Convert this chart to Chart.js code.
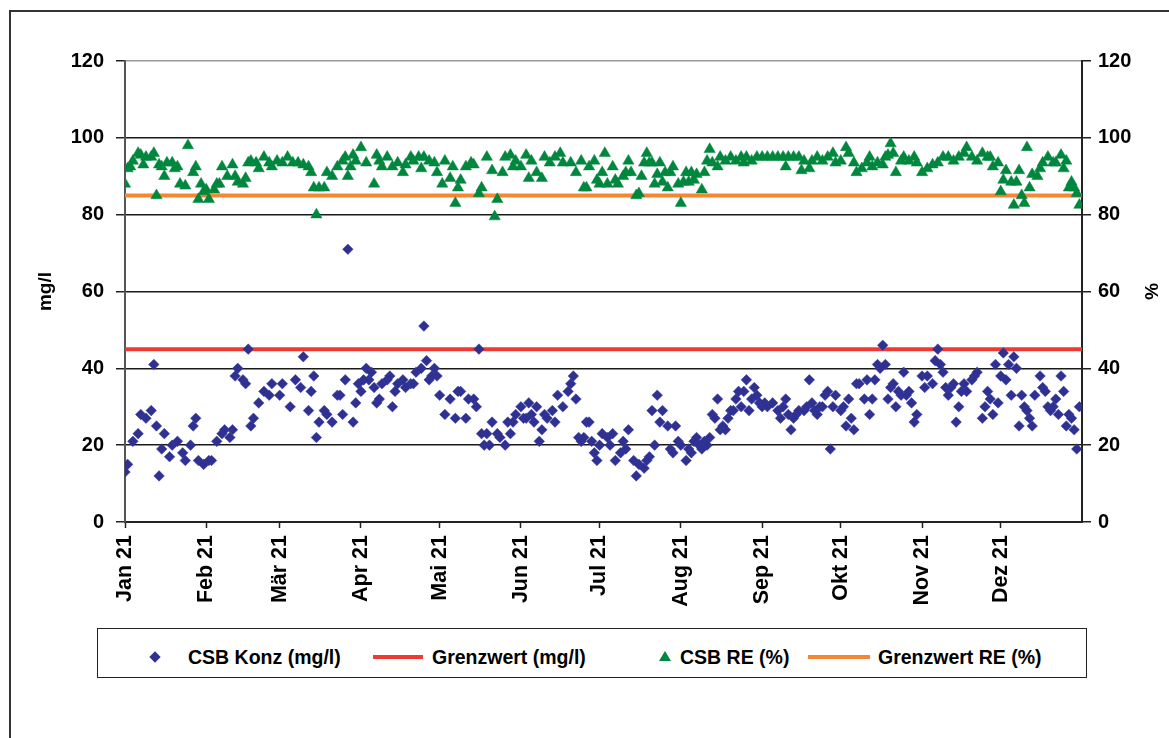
<!DOCTYPE html>
<html>
<head>
<meta charset="utf-8">
<script src="https://cdn.jsdelivr.net/npm/chart.js@4.4.1/dist/chart.umd.min.js"></script>
<style>
    html, body { margin: 0; padding: 0; background: #fff; }
    body { width: 1169px; height: 738px; position: relative; overflow: hidden; font-family: "Liberation Sans", Arial, sans-serif; }
    #frame { position: absolute; left: 9px; top: 10px; width: 1300px; height: 900px; border: 2px solid #333; }
    #wrap { position: absolute; left: 0; top: 0; width: 1169px; height: 620px; }
    #legend { position: absolute; left: 97px; top: 628px; width: 990px; height: 50px; border: 1px solid #222; box-sizing: border-box; background: #fff; }
    .lbl { position: absolute; top: 645px; height: 24px; line-height: 24px; font-size: 19.5px; font-weight: bold; color: #000; white-space: nowrap; }
    .swatch-line { position: absolute; height: 4px; top: 655px; }
    .diamond { position: absolute; left: 151px; top: 653px; width: 8px; height: 8px; background: #2E3192; transform: rotate(45deg); }
    .tri { position: absolute; left: 659px; top: 651px; width: 0; height: 0; border-left: 6px solid transparent; border-right: 6px solid transparent; border-bottom: 10px solid #00873E; }
</style>
</head>
<body>
<div id="frame"></div>
<div id="wrap"><canvas id="chart" width="1169" height="620"></canvas></div>
<div id="legend"></div>
<div class="diamond"></div>
<div class="lbl" style="left:188px">CSB Konz (mg/l)</div>
<div class="swatch-line" style="left:373px;width:50px;background:#EE3A32"></div>
<div class="lbl" style="left:432px">Grenzwert (mg/l)</div>
<div class="tri"></div>
<div class="lbl" style="left:680px">CSB RE (%)</div>
<div class="swatch-line" style="left:808px;width:62px;background:#F58634"></div>
<div class="lbl" style="left:878px">Grenzwert RE (%)</div>

<script>
// x axis = day of year 2021
const monthStarts = [1, 32, 60, 91, 121, 152, 182, 213, 244, 274, 305, 335];
const monthLabels = ['Jan 21', 'Feb 21', 'Mär 21', 'Apr 21', 'Mai 21', 'Jun 21', 'Jul 21', 'Aug 21', 'Sep 21', 'Okt 21', 'Nov 21', 'Dez 21'];
const dayMin = 1;
const dayMax = 366;

const grenzKonz = 45;   // mg/l
const grenzRE = 85;     // %

// CSB Konz (mg/l): [day, value]
const konzPoints = [
    [1,13],[2,15],[4,21],[6,23],[7,28],[9,27],[11,29],[12,41],[13,25],[14,12],[15,19],[16,23],[18,17],[19,20],[21,21],
    [23,18],[24,16],[26,20],[27,25],[28,27],[29,16],[31,15],[33,16],[34,16],[36,21],[38,23],[39,24],[41,22],[42,24],
    [43,38],[44,40],[46,37],[47,36],[48,45],[49,25],[50,27],[52,31],[54,34],[56,33],[57,36],[60,33],[61,36],[64,30],
    [66,37],[68,35],[69,43],[71,29],[72,34],[73,38],[74,22],[75,26],[77,29],[78,28],[80,26],[82,33],[83,33],[84,28],
    [85,37],[86,71],[88,26],[89,31],[90,36],[91,34],[92,37],[93,40],[94,37],[95,39],[96,35],[97,31],[98,32],[99,36],
    [101,37],[102,38],[103,30],[104,34],[105,36],[107,37],[108,35],[110,36],[111,36],[112,39],[114,40],[115,51],[116,42],
    [117,37],[118,38],[119,40],[120,38],[121,33],[123,28],[125,32],[127,27],[128,34],[129,34],[131,27],[132,32],[134,32],
    [135,30],[136,45],[137,23],[138,20],[139,23],[140,20],[141,26],[143,23],[144,22],[146,20],[147,26],[148,23],[149,26],
    [150,28],[152,30],[153,27],[154,27],[155,31],[156,28],[157,26],[158,30],[159,21],[160,24],[161,28],[162,27],[164,29],
    [165,26],[166,33],[168,30],[170,34],[171,36],[172,38],[173,32],[174,22],[175,21],[176,22],[177,26],[178,26],[179,21],
    [180,18],[181,16],[182,20],[183,23],[185,22],[186,20],[187,23],[188,16],[190,18],[191,21],[192,19],[193,24],[195,16],
    [196,12],[197,15],[199,14],[200,16],[201,17],[202,29],[203,20],[204,33],[205,26],[206,29],[208,25],[209,19],[210,18],
    [211,25],[212,21],[213,20],[215,16],[216,19],[217,18],[218,21],[219,22],[220,20],[221,19],[222,21],[223,20],[224,22],
    [225,28],[226,27],[227,32],[228,24],[229,25],[230,24],[231,27],[232,29],[233,29],[234,32],[235,34],[236,30],[237,34],
    [238,37],[239,29],[240,32],[241,35],[242,33],[243,31],[244,30],[245,31],[246,30],[248,31],[250,29],[251,27],[252,30],
    [253,32],[254,28],[255,24],[256,27],[257,28],[258,29],[260,29],[261,30],[262,37],[263,31],[264,29],[265,28],[266,30],
    [267,30],[268,33],[269,34],[270,19],[271,30],[272,33],[274,29],[275,30],[276,25],[277,32],[278,27],[279,24],[280,36],
    [281,36],[283,32],[284,37],[285,28],[286,32],[287,37],[288,41],[289,40],[290,46],[291,41],[292,32],[293,35],[294,36],
    [295,30],[296,34],[297,33],[298,39],[299,33],[300,34],[301,31],[302,26],[303,28],[305,38],[306,35],[307,38],[309,36],
    [310,42],[311,45],[312,41],[313,39],[314,35],[315,33],[316,35],[317,36],[318,26],[319,30],[320,34],[321,36],[322,34],
    [324,37],[325,38],[326,39],[328,27],[329,30],[330,34],[331,32],[332,28],[333,41],[334,31],[335,38],[336,44],[337,37],
    [338,41],[339,33],[340,43],[341,40],[342,25],[343,33],[344,30],[345,29],[346,27],[347,25],[348,33],[350,38],[351,35],
    [352,34],[353,30],[354,29],[355,30],[356,32],[357,28],[358,38],[359,34],[360,25],[361,28],[362,27],[363,24],[364,19],
    [365,30]
];

// CSB RE (%): [day, value]
const rePoints = [
    [1,88],[2,92],[3,92.5],[4,94],[6,96],[7,95.5],[8,93],[9,95],[11,95],[12,96],[13,85],[14,93],[15,92.5],[16,90],
    [17,93.5],[19,93.5],[20,92],[21,92.5],[22,88],[24,87.5],[25,98],[27,91],[28,92.5],[29,84],[30,88],[31,86],[32,86.5],
    [33,84],[35,86.5],[36,88],[37,88],[38,92.5],[40,90],[42,93],[43,90],[44,88.5],[46,88],[47,89.5],[48,93.5],[49,94],
    [51,93.5],[52,92],[54,95],[56,93.5],[57,92.5],[59,94],[61,93.5],[63,95],[65,93.5],[67,93.5],[69,93],[71,92.5],[72,91],
    [73,87],[74,80],[75,87],[77,87],[78,91],[80,90],[82,92.5],[84,94],[85,95],[86,90],[87,92.5],[88,95.5],[89,94],
    [91,97.5],[93,93.5],[96,88],[97,95.5],[98,94],[99,92.5],[101,95],[103,92.5],[105,93.5],[107,91],[108,93],[110,95],
    [111,94],[113,95],[114,92],[115,95],[117,94],[119,93.5],[120,91],[122,88],[123,94],[125,89.5],[126,92.5],[127,83],
    [128,87],[129,89],[131,92.5],[133,93.5],[134,93],[136,85.5],[137,87],[139,95],[141,91.5],[142,79.5],[143,84],[145,91],
    [146,95],[148,95.5],[149,92.5],[150,94],[152,92.5],[154,95.5],[155,89.5],[156,94],[158,91],[160,89.5],[161,95],
    [163,93.5],[165,95],[167,96],[168,93.5],[171,93.5],[173,91],[175,94],[176,87],[177,87],[178,92.5],[180,94],[181,89],
    [182,88],[183,91],[184,96],[185,88],[187,92.5],[188,89],[189,88],[191,90],[192,91],[193,94],[194,91],[196,85],
    [197,85.5],[198,90],[199,93.5],[200,96],[201,93.5],[202,93.5],[203,88],[204,90.5],[205,93.5],[206,88.5],[207,91],
    [208,87],[209,91],[210,92.5],[212,88],[213,83],[214,88.5],[215,91],[216,88.5],[217,91],[218,89],[219,90.5],[221,86.5],
    [222,91],[223,94],[224,97],[225,93.5],[227,92.5],[228,95],[230,94],[232,95],[234,94],[236,95],[237,93.5],[238,95],
    [240,94],[242,95],[244,95],[246,95],[248,95],[250,95],[252,95],[253,92.5],[254,95],[256,95],[258,95],[259,91.5],
    [260,94],[262,92],[263,94],[265,95],[267,94],[269,95],[271,96],[272,93.5],[274,94],[276,97.5],[277,96],[279,93.5],
    [280,91],[282,92],[284,93.5],[285,95],[286,92.5],[288,93.5],[290,93],[291,95],[292,95.5],[293,98.5],[294,96],[295,91],
    [297,94],[298,95],[300,94],[302,95],[303,93.5],[305,91],[307,92],[309,93],[311,93.5],[313,95],[315,95],[317,94],
    [319,95],[321,96],[322,97.5],[324,95],[326,94],[328,96],[330,95],[331,95],[332,92.5],[334,93.5],[335,86],[336,89],
    [337,91.5],[339,88.5],[340,82.5],[341,88.5],[342,91.5],[343,85],[344,83],[345,97.5],[346,87],[347,90.5],[349,90],
    [350,92],[351,93.5],[353,95],[355,93.5],[356,93.5],[358,95.5],[359,92],[360,94],[361,87],[362,88.5],[363,87],
    [364,85.5],[365,82.5]
];

const FONT = '"Liberation Sans", Arial, sans-serif';
Chart.defaults.font.family = FONT;
Chart.defaults.color = '#000';

const tickFont = { family: FONT, size: 20, weight: 'bold' };
const toXY = p => ({ x: p[0], y: p[1] });

const ctx = document.getElementById('chart').getContext('2d');
new Chart(ctx, {
    type: 'scatter',
    data: {
        datasets: [
            {
                label: 'CSB Konz (mg/l)',
                data: konzPoints.map(toXY),
                yAxisID: 'y',
                pointStyle: 'rectRot',
                pointRadius: 5.3,
                backgroundColor: '#2E3192',
                borderColor: '#3A3D9C',
                borderWidth: 0.5,
                order: 1
            },
            {
                type: 'line',
                label: 'Grenzwert (mg/l)',
                data: [{ x: dayMin, y: grenzKonz }, { x: dayMax, y: grenzKonz }],
                yAxisID: 'y',
                borderColor: '#EE3A32',
                borderWidth: 4,
                pointRadius: 0,
                order: 3
            },
            {
                label: 'CSB RE (%)',
                data: rePoints.map(toXY),
                yAxisID: 'y2',
                pointStyle: 'triangle',
                pointRadius: 6.5,
                backgroundColor: '#00873E',
                borderColor: '#00873E',
                borderWidth: 0.5,
                order: 0
            },
            {
                type: 'line',
                label: 'Grenzwert RE (%)',
                data: [{ x: dayMin, y: grenzRE }, { x: dayMax, y: grenzRE }],
                yAxisID: 'y2',
                borderColor: '#F58634',
                borderWidth: 4,
                pointRadius: 0,
                order: 2
            }
        ]
    },
    options: {
        responsive: false,
        animation: false,
        layout: { padding: { left: 30, right: 3, top: 61, bottom: 0 } },
        plugins: { legend: { display: false }, tooltip: { enabled: false } },
        scales: {
            x: {
                type: 'linear',
                position: 'bottom',
                min: dayMin,
                max: dayMax,
                afterBuildTicks: s => { s.ticks = monthStarts.map(v => ({ value: v })); },
                afterFit: s => { s.height = 98; },
                ticks: {
                    autoSkip: false,
                    minRotation: 90,
                    maxRotation: 90,
                    padding: 7,
                    font: { family: FONT, size: 21.5, weight: 'bold' },
                    callback: (v, i) => monthLabels[i]
                },
                grid: { drawOnChartArea: false, tickLength: 6, tickColor: '#222', tickWidth: 1.5 },
                border: { color: '#222', width: 2 }
            },
            y: {
                position: 'left',
                min: 0,
                max: 120,
                afterFit: s => { s.width = 95; },
                ticks: { stepSize: 20, padding: 12, font: tickFont },
                grid: {
                    color: c => (c.tick && c.tick.value === 120) ? '#9a9a9a' : '#1a1a1a',
                    lineWidth: 1.5,
                    tickLength: 9,
                    tickColor: '#222'
                },
                border: { color: '#555', width: 2 },
                title: { display: true, text: 'mg/l', font: { family: FONT, size: 19, weight: 'bold' } }
            },
            y2: {
                position: 'right',
                min: 0,
                max: 120,
                afterFit: s => { s.width = 84; },
                ticks: { stepSize: 20, padding: 7, font: tickFont },
                grid: { drawOnChartArea: false, tickLength: 9, tickColor: '#222', lineWidth: 1.5 },
                border: { color: '#222', width: 2 },
                title: { display: true, text: '%', font: { family: FONT, size: 19, weight: 'bold' } }
            }
        }
    }
});
</script>
</body>
</html>
